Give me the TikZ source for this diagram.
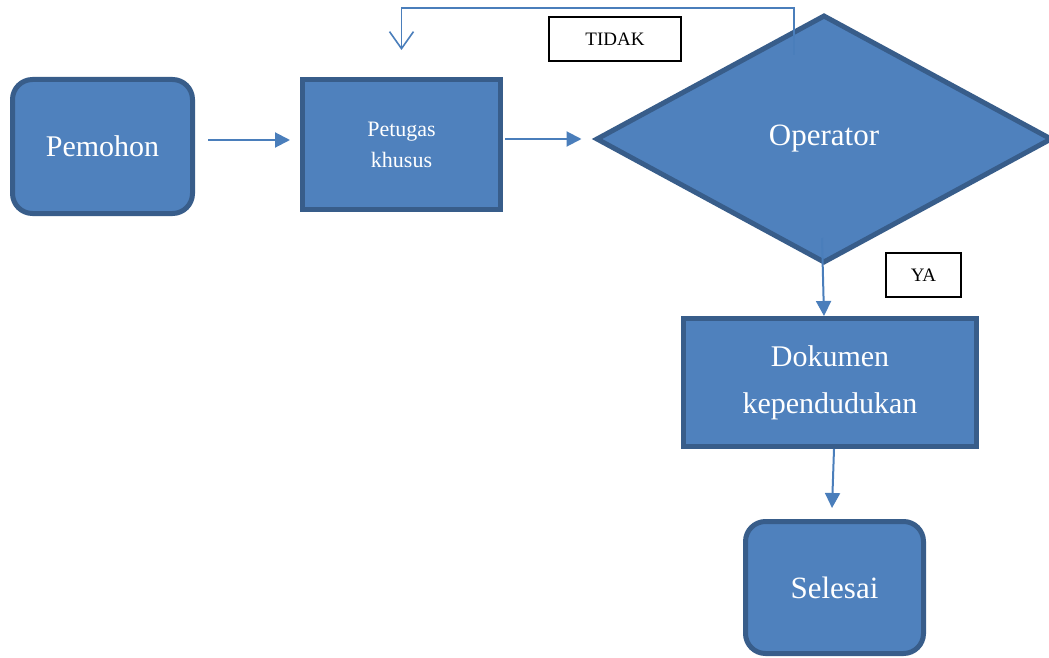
\documentclass[tikz,border=0pt]{standalone}
\usepackage{fontspec}
\setmainfont{Liberation Serif}
\usetikzlibrary{shapes.geometric,arrows.meta}
\definecolor{boxfill}{HTML}{4F81BD}
\definecolor{boxedge}{HTML}{385D8A}
\definecolor{linkblue}{HTML}{4A7EBB}
\begin{document}
\begin{tikzpicture}[x=1pt,y=-1pt,
  shapebox/.style={draw=boxedge, fill=boxfill, line width=5pt, text=white,
    inner sep=0pt, align=center},
  roundbox/.style={shapebox, rounded corners=20pt},
  arr/.style={draw=linkblue, line width=2pt, -{Triangle[length=15pt,width=15pt]}},
  back/.style={draw=linkblue, line width=1.6pt, -{Straight Barb[length=17pt,width=24pt]}},
  tag/.style={draw=black, line width=1.2pt, fill=white, inner sep=0pt,
    font=\fontsize{19}{22}\selectfont}
]
\useasboundingbox (0,0) rectangle (1049,658);

% process boxes
\node[roundbox, minimum width=180pt, minimum height=134pt,
  font=\fontsize{30}{34}\selectfont] (pem) at (102.5,146.5) {Pemohon};
\node[shapebox, minimum width=198pt, minimum height=130pt,
  font=\fontsize{22}{31}\selectfont] (pet) at (401.5,144.5) {Petugas\\khusus};
\node[shapebox, diamond, minimum width=456pt, minimum height=248pt,
  font=\fontsize{31}{36}\selectfont] (op) at (824,139) {Operator};
\node[shapebox, minimum width=293pt, minimum height=128pt,
  font=\fontsize{30}{47}\selectfont] (dok) at (830,382.5) {Dokumen\\kependudukan};
\node[roundbox, minimum width=178pt, minimum height=132pt,
  font=\fontsize{31}{36}\selectfont] (sel) at (834.5,587.5) {Selesai};

% decision labels
\node[tag, minimum width=132pt, minimum height=44pt] (tidak) at (615,39) {TIDAK};
\node[tag, minimum width=75pt, minimum height=44pt] (ya) at (923.5,275) {YA};

% flow connectors
\draw[arr] ([shift={(13,-6.5)}]pem.east) -- ([shift={(-10,-4.5)}]pet.west);
\draw[arr] ([shift={(2,-5.5)}]pet.east) -- ([shift={(-12,0)}]op.west);
\draw[arr] ([shift={(-2,99)}]op.center) -- ([shift={(-6,0)}]dok.north);
\draw[arr] ([shift={(4,0)}]dok.south) -- ([shift={(-2.5,-11)}]sel.north);

% return path when the operator rejects
\coordinate (ret) at ([shift={(-30,-84)}]op.center);
\draw[back] (ret) -- (ret |- 0,8) -| ([shift={(0,-27)}]pet.north);
\end{tikzpicture}
\end{document}
